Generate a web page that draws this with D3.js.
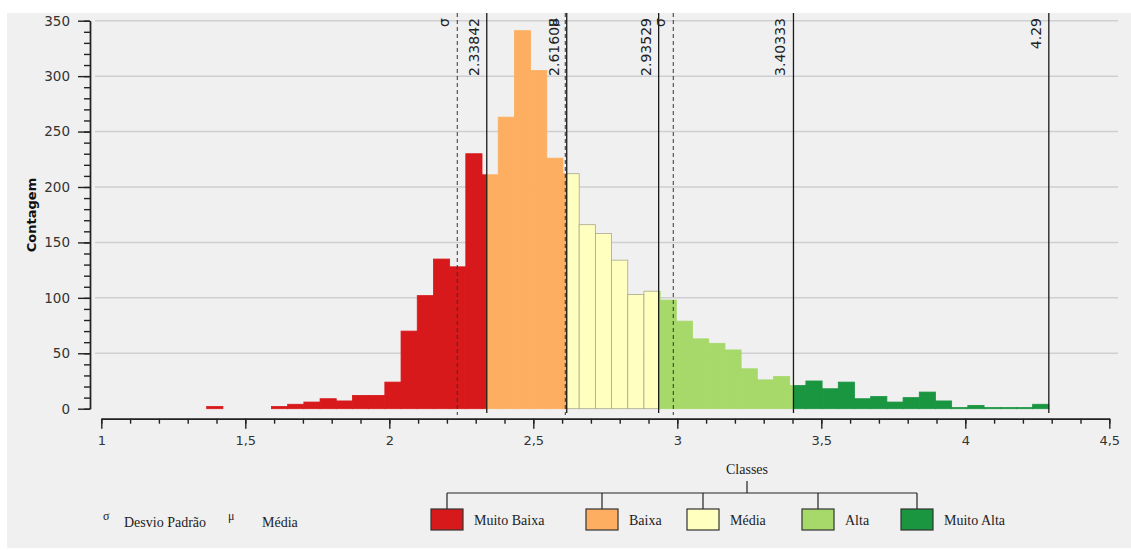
<!DOCTYPE html>
<html>
<head>
<meta charset="utf-8">
<script src="https://cdn.jsdelivr.net/npm/d3@7"></script>
<style>
  body { margin: 0; background: #fff; }
  svg { display: block; }
  .tick text { font-family: "DejaVu Sans", Verdana, sans-serif; font-size: 13px; fill: #333; }
</style>
</head>
<body>
<svg id="chart" width="1131" height="550"></svg>
<script>
// Histogram data
var histMin = 1.366,
    histMax = 4.29;
var counts = [2, 0, 0, 0, 2, 4, 6, 9, 7, 12, 12, 24, 70, 102, 135, 128, 230, 211,
  263, 341, 305, 226, 212, 166, 158, 134, 103, 106, 98, 79, 63, 59, 53, 36, 26, 29,
  21, 25, 18, 24, 9, 11, 6, 10, 15, 7, 1, 3, 1, 1, 1, 4];

// Classes
var classNames = ["Muito Baixa", "Baixa", "Média", "Alta", "Muito Alta"];
var classColors = ["#d7191c", "#fdae61", "#ffffbf", "#a6d96a", "#1a9641"];
var classBreaks = [2.33842, 2.61608, 2.93529, 3.40333, 4.29];
var breakLabels = ["2.33842", "2.61608", "2.93529", "3.40333", "4.29"];

// Statistics
var mean = 2.611,
    stdDev = 0.375;

// Ticks
var xTicks = [1, 1.5, 2, 2.5, 3, 3.5, 4, 4.5];
var xMinor = d3.range(10, 46).map(function (d) { return d / 10; });
var yTicks = [0, 50, 100, 150, 200, 250, 300, 350];
var yMinor = d3.range(0, 351, 10);

var svg = d3.select("#chart");

// panel
svg.append("rect")
  .attr("x", 7).attr("y", 13)
  .attr("width", 1124).attr("height", 535)
  .attr("fill", "#f0f0f0");

var x = d3.scaleLinear().domain([1, 4.5]).range([101.3, 1109.3]);
var y = d3.scaleLinear().domain([0, 350]).range([408.7, 20.7]);

// gridlines
svg.append("g").selectAll("line")
  .data(yTicks.slice(1))
  .enter().append("line")
  .attr("x1", 95).attr("x2", 1118)
  .attr("y1", function (d) { return y(d); })
  .attr("y2", function (d) { return y(d); })
  .attr("stroke", "#cfcfcf")
  .attr("stroke-width", 1.5);

// bars, split at class breaks
var binW = (histMax - histMin) / counts.length;
var lowers = [histMin].concat(classBreaks.slice(0, -1));
var pieces = [];
counts.forEach(function (c, i) {
  var b0 = histMin + i * binW, b1 = b0 + binW;
  lowers.forEach(function (lo, j) {
    var hi = classBreaks[j];
    var s = Math.max(b0, lo), e = Math.min(b1, hi);
    if (e > s && c > 0) pieces.push({ x0: s, x1: e, count: c, cls: j });
  });
});

svg.append("g").selectAll("rect")
  .data(pieces)
  .enter().append("rect")
  .attr("x", function (d) { return x(d.x0); })
  .attr("width", function (d) { return x(d.x1) - x(d.x0); })
  .attr("y", function (d) { return y(d.count); })
  .attr("height", function (d) { return y(0) - y(d.count); })
  .attr("fill", function (d) { return classColors[d.cls]; })
  .attr("stroke", function (d) { return d.cls === 2 ? "#a8a890" : classColors[d.cls]; })
  .attr("stroke-width", 0.8);

// y axis
var yAxis = svg.append("g").attr("transform", "translate(90,0)");
yAxis.call(d3.axisLeft(y).tickValues(yMinor).tickSize(6).tickFormat("").tickSizeOuter(0));
yAxis.append("g").call(d3.axisLeft(y).tickValues(yTicks).tickSize(12).tickPadding(8).tickSizeOuter(0));
yAxis.selectAll("path, line").attr("stroke", "#222").attr("stroke-width", 1.4);
yAxis.selectAll(".tick text").style("font-size", "13.5px");

svg.append("text")
  .attr("transform", "translate(36,215) rotate(-90)")
  .attr("text-anchor", "middle")
  .style("font-family", "'DejaVu Sans', Verdana, sans-serif")
  .style("font-size", "13px")
  .style("font-weight", "bold")
  .attr("fill", "#111")
  .text("Contagem");

// x axis
var xAxis = svg.append("g").attr("transform", "translate(0,418.7)");
xAxis.call(d3.axisBottom(x).tickValues(xMinor).tickSize(5).tickFormat("").tickSizeOuter(0));
xAxis.append("g").call(d3.axisBottom(x).tickValues(xTicks).tickSize(10).tickPadding(7).tickSizeOuter(0)
  .tickFormat(function (d) { return String(d).replace(".", ","); }));
xAxis.selectAll("path, line").attr("stroke", "#222").attr("stroke-width", 1.4);

// class break lines
svg.append("g").selectAll("line")
  .data(classBreaks)
  .enter().append("line")
  .attr("x1", function (d) { return x(d); })
  .attr("x2", function (d) { return x(d); })
  .attr("y1", 13).attr("y2", 413)
  .attr("stroke", "#1a1a1a")
  .attr("stroke-width", 1.3);

// mean / std dev lines
var statLines = [
  { v: mean - stdDev, label: "σ" },
  { v: mean, label: "μ" },
  { v: mean + stdDev, label: "σ" }
];
svg.append("g").selectAll("line")
  .data(statLines)
  .enter().append("line")
  .attr("x1", function (d) { return x(d.v); })
  .attr("x2", function (d) { return x(d.v); })
  .attr("y1", 13).attr("y2", 415)
  .attr("stroke", "#333")
  .attr("stroke-width", 1)
  .attr("stroke-dasharray", "4,3");

// vertical labels
function vLabel(xv, txt) {
  svg.append("text")
    .attr("transform", "translate(" + (x(xv) - 8) + ",18) rotate(-90)")
    .attr("text-anchor", "end")
    .style("font-family", "'DejaVu Sans', Verdana, sans-serif")
    .style("font-size", "14px")
    .attr("fill", "#222")
    .text(txt);
}
classBreaks.forEach(function (b, i) { vLabel(b, breakLabels[i]); });
statLines.forEach(function (s) { vLabel(s.v, s.label); });

// bottom-left legend for statistics
var serif = "'Liberation Serif', 'Times New Roman', serif";
var statLegend = [
  { sym: "σ", symX: 103, text: "Desvio Padrão", textX: 124 },
  { sym: "μ", symX: 228, text: "Média", textX: 262 }
];
statLegend.forEach(function (d) {
  svg.append("text").attr("x", d.symX).attr("y", 520)
    .style("font-family", serif).style("font-size", "12px").attr("fill", "#222").text(d.sym);
  svg.append("text").attr("x", d.textX).attr("y", 527)
    .style("font-family", serif).style("font-size", "14px").attr("fill", "#222").text(d.text);
});

// Classes legend (tree)
var legendX = [447, 602, 703, 818, 917];
var tree = svg.append("g").attr("stroke", "#222").attr("stroke-width", 1.2);
svg.append("text")
  .attr("x", 747).attr("y", 474)
  .attr("text-anchor", "middle")
  .style("font-family", serif).style("font-size", "14px").attr("fill", "#222")
  .text("Classes");
tree.append("line").attr("x1", 747).attr("x2", 747).attr("y1", 481).attr("y2", 493);
tree.append("line").attr("x1", legendX[0]).attr("x2", legendX[4]).attr("y1", 493).attr("y2", 493);
legendX.forEach(function (lx, i) {
  tree.append("line").attr("x1", lx).attr("x2", lx).attr("y1", 493).attr("y2", 509);
  svg.append("rect")
    .attr("x", lx - 16).attr("y", 509)
    .attr("width", 32).attr("height", 21)
    .attr("fill", classColors[i])
    .attr("stroke", "#333").attr("stroke-width", 1.2);
  svg.append("text")
    .attr("x", lx + 27).attr("y", 525)
    .style("font-family", serif).style("font-size", "14px").attr("fill", "#222")
    .text(classNames[i]);
});
</script>
</body>
</html>
